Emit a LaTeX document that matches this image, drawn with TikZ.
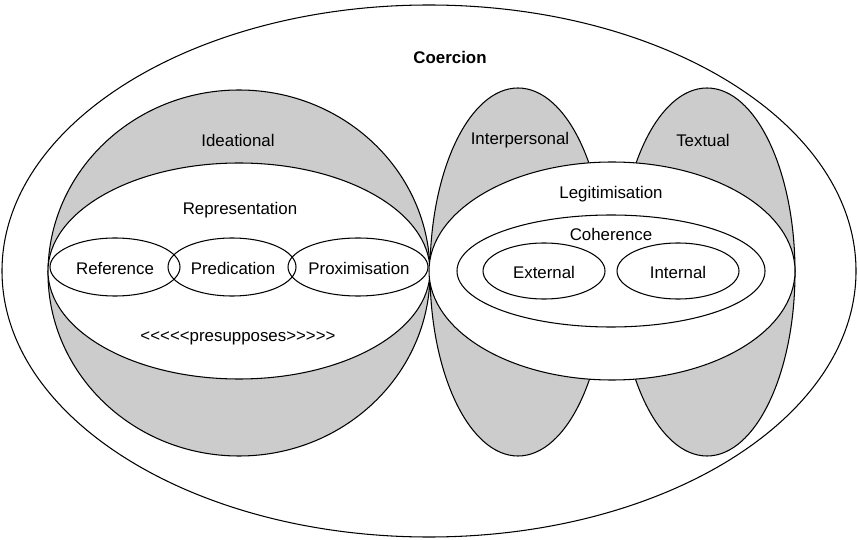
\documentclass[tikz,border=0pt]{standalone}
\usepackage{fontspec}
\setmainfont{Liberation Sans}
\usepackage{tikz}
\tikzset{
	greyfill/.style={fill=black!20, draw=black, line width=0.6pt},
	whitefill/.style={fill=white, draw=black, line width=0.6pt},
	ring/.style={draw=black, line width=0.6pt},
	lbl/.style={font=\fontsize{9.6}{11}\selectfont, inner sep=0pt}
}

\begin{document}
\begin{tikzpicture}[x=0.02cm, y=-0.02cm]
			%%%%% START %%%%%
			\useasboundingbox (0, 0) rectangle (858, 540);
			
			\draw[whitefill] (429, 271) ellipse [x radius=427, y radius=266];
			\node[lbl, font=\fontsize{9.6}{11}\selectfont\bfseries] (coercion) at (450, 57) {Coercion};
			
			% left half
			\draw[greyfill] (239, 273) ellipse [x radius=191, y radius=183];
			\draw[whitefill] (239, 271) ellipse [x radius=191, y radius=108];
			\draw[ring] (115, 267) ellipse [x radius=65, y radius=29];
			\draw[ring] (232, 267) ellipse [x radius=64, y radius=29];
			\draw[ring] (358, 267) ellipse [x radius=70, y radius=29];
			
			\node[lbl] (ideational) at (238, 140) {Ideational};
			\node[lbl] (representation) at (240, 210) {Representation};
			\node[lbl] (reference) at (115, 268) {Reference};
			\node[lbl] (predication) at (233, 268) {Predication};
			\node[lbl] (proximisation) at (359, 268) {Proximisation};
			\node[lbl] (presupposes) at (238, 338) {<{}<{}<{}<{}<presupposes>{}>{}>{}>{}>};
			
			% right half
			\draw[greyfill] (518, 272) ellipse [x radius=88, y radius=184];
			\draw[greyfill] (707, 272) ellipse [x radius=88, y radius=184];
			\draw[whitefill] (612, 271) ellipse [x radius=183, y radius=109];
			\draw[ring] (611, 271) ellipse [x radius=154, y radius=56];
			\draw[ring] (544, 271) ellipse [x radius=61, y radius=28];
			\draw[ring] (678, 271) ellipse [x radius=61, y radius=28];
			
			\node[lbl] (interpersonal) at (520, 140) {Interpersonal};
			\node[lbl] (textual) at (703, 140) {Textual};
			\node[lbl] (legitimisation) at (611, 194) {Legitimisation};
			\node[lbl] (coherence) at (611, 234) {Coherence};
			\node[lbl] (external) at (544, 272) {External};
			\node[lbl] (internal) at (678, 272) {Internal};
			
			%%%%% END %%%%%
		\end{tikzpicture}
\end{document}
